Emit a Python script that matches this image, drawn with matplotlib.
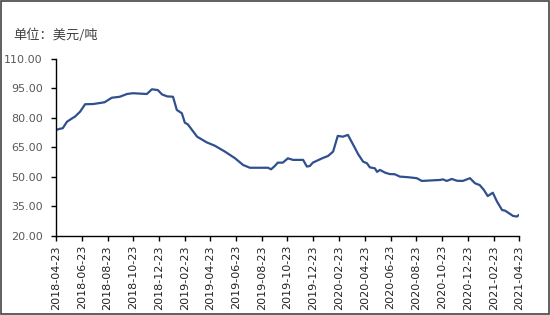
import matplotlib
matplotlib.use("Agg")
import matplotlib.pyplot as plt
import matplotlib.dates as mdates
from matplotlib.patches import Rectangle
import pandas as pd

plt.rcParams['font.family'] = ['DejaVu Sans', 'Noto Sans CJK SC']

# price series, USD/ton
dates = [
    "2018-04-23", "2018-05-02", "2018-05-09", "2018-05-19", "2018-05-31", "2018-06-07",
    "2018-06-19", "2018-07-01", "2018-07-20", "2018-08-04", "2018-08-16", "2018-09-02",
    "2018-09-21", "2018-10-08", "2018-10-22", "2018-11-24", "2018-12-06", "2018-12-20",
    "2018-12-30", "2019-01-11", "2019-01-25", "2019-02-03", "2019-02-15", "2019-02-22",
    "2019-03-01", "2019-03-23", "2019-04-15", "2019-05-04", "2019-05-28", "2019-06-21",
    "2019-07-10", "2019-07-26", "2019-09-07", "2019-09-14", "2019-09-23", "2019-09-30",
    "2019-10-12", "2019-10-24", "2019-11-05", "2019-11-29", "2019-12-08", "2019-12-15",
    "2019-12-22", "2020-01-13", "2020-01-27", "2020-02-08", "2020-02-19", "2020-03-02",
    "2020-03-14", "2020-03-31", "2020-04-07", "2020-04-19", "2020-04-28", "2020-05-05",
    "2020-05-17", "2020-05-22", "2020-05-29", "2020-06-10", "2020-06-21", "2020-07-03",
    "2020-07-15", "2020-08-03", "2020-08-24", "2020-09-05", "2020-10-18", "2020-10-25",
    "2020-11-03", "2020-11-15", "2020-11-27", "2020-12-11", "2020-12-28", "2021-01-09",
    "2021-01-20", "2021-01-30", "2021-02-08", "2021-02-20", "2021-03-02", "2021-03-14",
    "2021-03-21", "2021-03-28", "2021-04-09", "2021-04-18", "2021-04-23",
]
prices = [
    73.9, 74.5, 74.8, 78.1, 79.8, 80.7,
    83.2, 87.0, 87.1, 87.6, 88.0, 90.3,
    90.8, 92.2, 92.6, 92.2, 94.6, 94.2,
    92.0, 91.0, 90.8, 84.1, 82.4, 77.6,
    76.8, 70.5, 67.6, 65.9, 62.9, 59.5,
    56.1, 54.7, 54.7, 53.9, 55.6, 57.3,
    57.3, 59.5, 58.7, 58.7, 55.3, 55.6,
    57.3, 59.5, 60.7, 62.9, 70.9, 70.5,
    71.4, 64.6, 61.7, 57.8, 57.0, 54.9,
    54.4, 52.6, 53.6, 52.2, 51.5, 51.4,
    50.2, 49.9, 49.4, 48.0, 48.5, 48.8,
    48.0, 49.0, 48.1, 48.0, 49.4, 46.8,
    45.9, 43.4, 40.3, 42.0, 37.5, 33.2,
    32.9, 31.9, 30.2, 29.9, 30.7,
]

tick_labels = [
    "2018-04-23", "2018-06-23", "2018-08-23", "2018-10-23", "2018-12-23",
    "2019-02-23", "2019-04-23", "2019-06-23", "2019-08-23", "2019-10-23",
    "2019-12-23", "2020-02-23", "2020-04-23", "2020-06-23", "2020-08-23",
    "2020-10-23", "2020-12-23", "2021-02-23", "2021-04-23",
]
y_ticks = [20, 35, 50, 65, 80, 95, 110]

x = pd.to_datetime(dates)
ticks = pd.to_datetime(tick_labels)

fig = plt.figure(figsize=(5.5, 3.15), dpi=100)
ax = fig.add_axes([0.1018, 0.2508, 0.8418, 0.5619])

ax.plot(x, prices, color="#2F4F8F", linewidth=1.6, solid_joinstyle="round")

ax.set_xlim(ticks[0], ticks[-1])
ax.set_ylim(20, 110)
ax.set_yticks(y_ticks)
ax.set_yticklabels([f"{v:.2f}" for v in y_ticks], fontsize=8, color="#595959")
ax.set_xticks(ticks)
ax.set_xticklabels(tick_labels, rotation=90, fontsize=8, color="#222222")

for s in ["top", "right"]:
    ax.spines[s].set_visible(False)
for s in ["left", "bottom"]:
    ax.spines[s].set_color("black")
    ax.spines[s].set_linewidth(1.0)
ax.tick_params(axis="y", direction="out", length=3.5, width=1.0, pad=6)
ax.tick_params(axis="x", direction="out", length=3.5, width=1.0, pad=3)

fig.text(0.024, 1 - 35 / 315, "单位：美元/吨", fontsize=9.5, color="#404040",
         ha="left", va="center", family=["Noto Sans CJK SC", "DejaVu Sans"])

# thin dark frame around the whole picture
fig.patches.append(Rectangle((0.001, 0.002), 0.997, 0.995, transform=fig.transFigure,
                             fill=False, edgecolor="#444444", linewidth=1.2))

fig.savefig("out.png", dpi=100)
